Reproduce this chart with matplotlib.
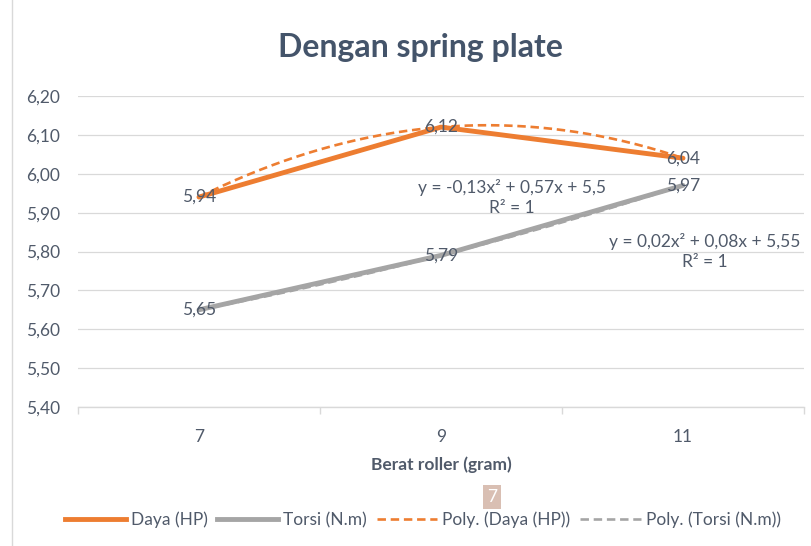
import numpy as np
import matplotlib
matplotlib.use("Agg")
import matplotlib.pyplot as plt
from matplotlib.lines import Line2D

plt.rcParams['font.family'] = ['Lato', 'DejaVu Sans']

categories = ['7', '9', '11']
daya = [5.94, 6.12, 6.04]
torsi = [5.65, 5.79, 5.97]
yticks = [5.40, 5.50, 5.60, 5.70, 5.80, 5.90, 6.00, 6.10, 6.20]
eq_daya = "y = -0,13x² + 0,57x + 5,5\nR² = 1"
eq_torsi = "y = 0,02x² + 0,08x + 5,55\nR² = 1"

orange = '#ED7D31'
gray = '#A5A5A5'
txt = '#505A6A'
fs = 12.5

fig = plt.figure(figsize=(8.12, 5.46), dpi=100)
ax = fig.add_axes([78/812, 1-407/546, (804-78)/812, (407-96)/546])

x = np.arange(len(categories))
ax.plot(x, daya, color=orange, lw=3.5, solid_capstyle='round', zorder=3)
ax.plot(x, torsi, color=gray, lw=3.5, solid_capstyle='round', zorder=3)

# polynomial trendlines (order 2, Excel index x = 1..n)
xi = x + 1
xs = np.linspace(1, len(categories), 200)
dash = (0, (3.2, 1.8))
for ser, col in [(daya, orange), (torsi, gray)]:
    c = np.polyfit(xi, ser, 2)
    ax.plot(xs - 1, np.polyval(c, xs), color=col, lw=1.9, ls=dash, zorder=4)

for xv, v in zip(x, daya):
    ax.text(xv, v, f"{v:.2f}".replace('.', ','), ha='center', va='center', fontsize=fs, color=txt, zorder=5)
for xv, v in zip(x, torsi):
    ax.text(xv, v, f"{v:.2f}".replace('.', ','), ha='center', va='center', fontsize=fs, color=txt, zorder=5)

ax.text(1.293, 5.94, eq_daya, ha='center', va='center', fontsize=fs, color=txt, linespacing=1.3)
ax.text(2.09, 5.80, eq_torsi, ha='center', va='center', fontsize=fs, color=txt, linespacing=1.3)

ax.set_xlim(-0.5, len(categories) - 0.5)
ax.set_ylim(5.40, 6.20)
ax.set_yticks(yticks)
ax.set_yticklabels([f"{t:.2f}".replace('.', ',') for t in yticks])
ax.set_xticks(x)
ax.set_xticklabels(categories)
ax.set_xticks([-0.5, 0.5, 1.5, 2.5], minor=True)
ax.tick_params(axis='y', length=0, pad=13, labelsize=fs, labelcolor=txt)
ax.tick_params(axis='x', which='major', length=0, pad=16, labelsize=fs, labelcolor=txt)
ax.tick_params(axis='x', which='minor', length=5, color='#D9D9D9', width=1, direction='out')
ax.grid(axis='y', color='#D9D9D9', lw=0.9)
ax.set_axisbelow(True)
for s in ['top', 'right', 'left']:
    ax.spines[s].set_visible(False)
ax.spines['bottom'].set_color('#D9D9D9')
ax.spines['bottom'].set_linewidth(1)

ax.set_xlabel('Berat roller (gram)', fontsize=fs, fontweight='bold', color=txt, labelpad=8)
fig.text(420/812, 1 - 48/546, 'Dengan spring plate', ha='center', va='center',
         fontsize=23, fontweight='bold', color='#44546A')

handles = [
    Line2D([], [], color=orange, lw=3.5),
    Line2D([], [], color=gray, lw=3.5),
    Line2D([], [], color=orange, lw=1.9, ls=dash),
    Line2D([], [], color=gray, lw=1.9, ls=dash),
]
labels = ['Daya (HP)', 'Torsi (N.m)', 'Poly. (Daya (HP))', 'Poly. (Torsi (N.m))']
fig.legend(handles, labels, loc='center', bbox_to_anchor=(423/812, 1 - 520/546), ncol=4, frameon=False,
           fontsize=fs, labelcolor=txt, handlelength=3.5, handletextpad=0.3, columnspacing=0.55)

# chart area left border
fig.add_artist(Line2D([12/812, 12/812], [0, 1], color='#D9D9D9', lw=1, transform=fig.transFigure))

# page marker badge
fig.text(492/812, 1 - 497/546, '7', ha='center', va='center', fontsize=fs, color='white',
         bbox=dict(boxstyle='square,pad=0.25', fc='#D9BFB3', ec='none'))

fig.savefig('out.png', dpi=100)
